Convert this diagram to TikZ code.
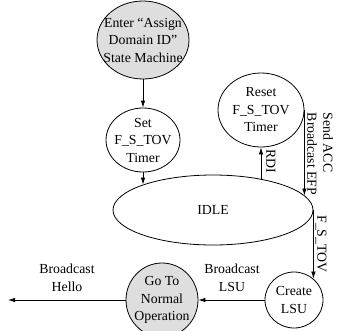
\documentclass[tikz,border=0pt]{standalone}
\usepackage{fontspec}
\setmainfont{Liberation Serif}
\usetikzlibrary{shapes.geometric,arrows.meta}
\definecolor{statefill}{RGB}{222,222,222}
\begin{document}
\begin{tikzpicture}[x=1pt,y=-1pt,
  font=\fontsize{13.8}{17.5}\selectfont,
  state/.style={ellipse,draw,line width=0.8pt,inner sep=0pt},
  txt/.style={align=center,inner sep=0pt},
  lbl/.style={align=center,inner sep=0pt},
  flow/.style={line width=0.8pt,-{Latex[length=7pt,width=4.5pt]}}]
\useasboundingbox (0,0) rectangle (337,330);

% states
\node[state,fill=statefill,minimum width=92pt,minimum height=78pt] (enter) at (143,40) {};
\node[txt] (enter-t) at (enter) {Enter “Assign\\Domain ID”\\State Machine};

\node[state,minimum width=74pt,minimum height=64pt] (set) at (143,140) {};
\node[txt] (set-t) at (set) {Set\\F\_S\_TOV\\Timer};

\node[state,minimum width=86pt,minimum height=74pt] (reset) at (261,110) {};
\node[txt] (reset-t) at (reset) {Reset\\F\_S\_TOV\\Timer};

\node[state,minimum width=200pt,minimum height=70pt] (idle) at (213,210) {};
\node[txt] (idle-t) at (idle) {IDLE};

\node[state,minimum width=58pt,minimum height=56pt] (create) at (294,300) {};
\node[txt] (create-t) at (create) {Create\\LSU};

\node[state,fill=statefill,minimum width=72pt,minimum height=74pt] (goto) at (162,300) {};
\node[txt] (goto-t) at (goto) {Go To\\Normal\\Operation};

\coordinate (out) at (8,300);

% transitions
\draw[flow] (enter.south) -- (set.north);
\draw[flow] (set.south) -- (set.south |- idle.160);
\draw[flow] (reset.south |- idle.32) -- (reset.south);
\draw[flow] (reset.east) -- (reset.east |- idle.9);
\draw[flow] (idle.east) -- (idle.east |- create.48);
\draw[flow] (create.west) -- (goto.east);
\draw[flow] (goto.west) -- (out);

% transition labels
\node[lbl,rotate=-90] (rdi) at (271,161) {RDI};
\node[lbl,rotate=-90,align=left,font=\fontsize{13.8}{16}\selectfont] (send) at (320,154) {Send ACC\\Broadcast EFP};
\node[lbl,rotate=-90] (fstov) at (321,244) {F\_S\_TOV};
\node[lbl] (blsu) at (232,278) {Broadcast\\LSU};
\node[lbl] (bhello) at (67,278) {Broadcast\\Hello};
\end{tikzpicture}
\end{document}
